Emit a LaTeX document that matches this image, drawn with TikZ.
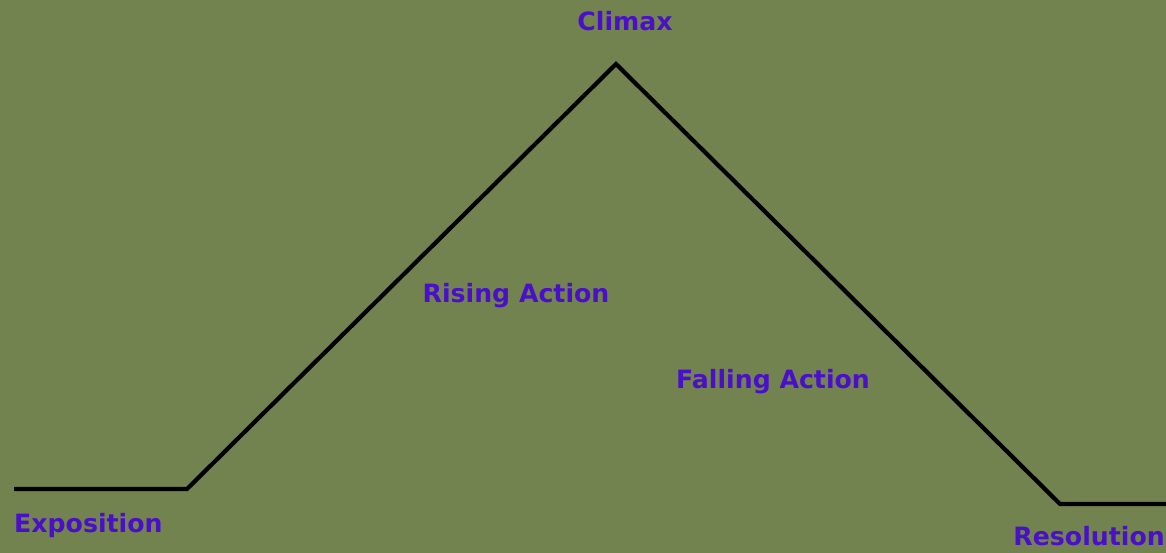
\documentclass[tikz,border=0pt]{standalone}
\usepackage{fontspec}
\setmainfont{DejaVu Sans}
\definecolor{bg}{HTML}{738350}
\definecolor{lbl}{HTML}{4A10C8}
\begin{document}
\begin{tikzpicture}[x=1pt,y=1pt,
  lab/.style={inner sep=0pt,text=lbl,font=\fontsize{25.2}{28}\selectfont\bfseries},
  arc/.style={line width=4.2pt,black,line join=miter}]
\fill[bg] (0,0) rectangle (1166,553);
\useasboundingbox (0,0) rectangle (1166,553);
\coordinate (s) at (14,64);
\coordinate (e) at (187,64);
\coordinate (c) at (616,489);
\coordinate (f) at (1060,49);
\coordinate (r) at (1170,49);
\draw[arc] (s) -- (e) -- (c) -- (f) -- (r);
\node[lab,anchor=base] (climax) at (625,522) {Climax};
\node[lab,anchor=base west] (expo) at (14,20) {Exposition};
\node[lab,anchor=base] (rise) at (516,250) {Rising Action};
\node[lab,anchor=base] (fall) at (773,164) {Falling Action};
\node[lab,anchor=base east] (res) at (1165,7) {Resolution};
\end{tikzpicture}
\end{document}
